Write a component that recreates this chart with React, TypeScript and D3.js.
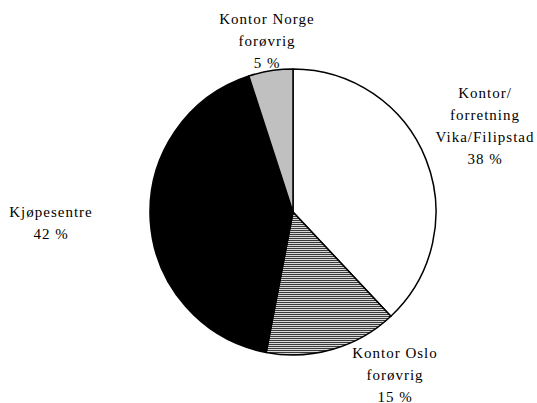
import React from 'react';
import * as d3 from 'd3';

// slices, clockwise from 12 o'clock
const categories = ['Kontor/\nforretning\nVika/Filipstad', 'Kontor Oslo\nforøvrig', 'Kjøpesentre', 'Kontor Norge\nforøvrig'];
const values = [38, 15, 42, 5];
const fills = ['#ffffff', 'url(#hatch)', '#000000', '#c0c0c0'];

// label anchor: offset of first baseline from the pie centre
const labelOffsets = [[192, -114], [102, 146], [-242, 5], [-26, -188]];

const width = 537;
const height = 403;
const cx = 293;
const cy = 212;
const radius = 143;
const lineHeight = 22;

export default function App() {
    const pie = d3.pie<number>().sort(null).value(d => d);
    const arcs = pie(values);
    const arc = d3.arc<d3.PieArcDatum<number>>().innerRadius(0).outerRadius(radius);

    return (
        <svg width={width} height={height} style={{ position: 'absolute', left: 0, top: 0, background: '#fff' }}>
            <defs>
                <pattern id="hatch" width="4" height="2" patternUnits="userSpaceOnUse">
                    <rect width="4" height="2" fill="#d8d8d8" />
                    <rect width="4" height="1" fill="#3a3a3a" />
                </pattern>
            </defs>
            <g transform={`translate(${cx},${cy})`}>
                {arcs.map((a, i) => (
                    <path key={i} d={arc(a) || ''} fill={fills[i]} stroke="#000" strokeWidth={1.5} strokeLinejoin="round" />
                ))}
                {categories.map((c, i) => {
                    const lines = c.split('\n').concat([values[i] + ' %']);
                    return (
                        <text key={i} x={labelOffsets[i][0]} y={labelOffsets[i][1]} textAnchor="middle"
                            fontFamily="'Liberation Serif', 'Times New Roman', serif" fontSize={15} letterSpacing={1} fill="#000">
                            {lines.map((l, j) => (
                                <tspan key={j} x={labelOffsets[i][0]} dy={j === 0 ? 0 : lineHeight}>{l}</tspan>
                            ))}
                        </text>
                    );
                })}
            </g>
        </svg>
    );
}
